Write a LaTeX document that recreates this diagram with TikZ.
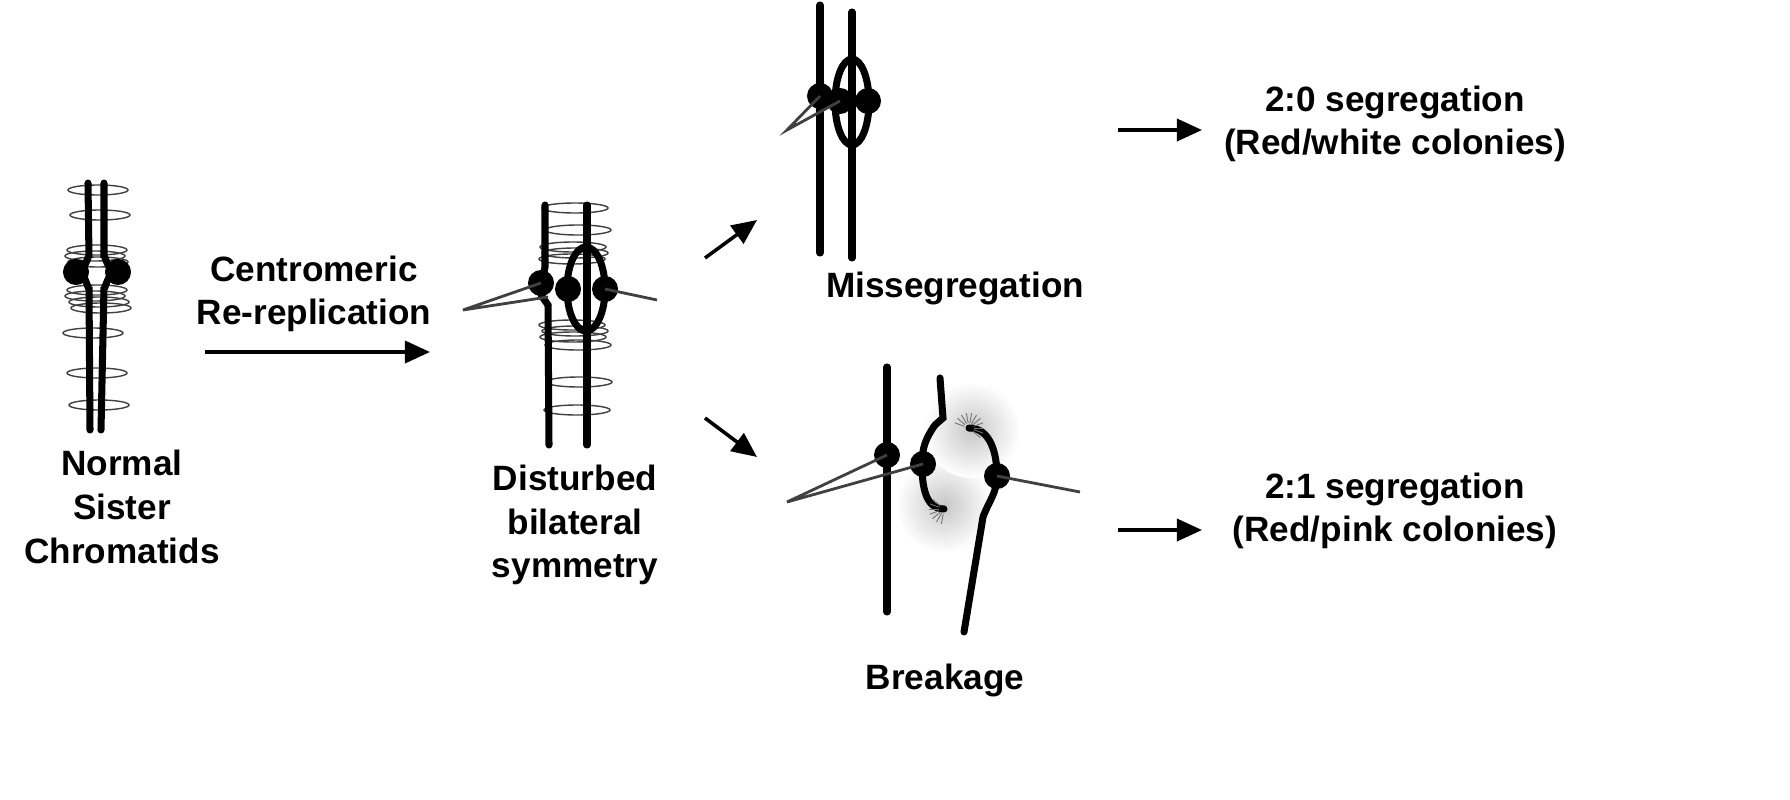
\documentclass[tikz,border=0pt]{standalone}
\usepackage{fontspec}
\setmainfont{Liberation Sans}
\usetikzlibrary{arrows.meta}
\begin{document}
\begin{tikzpicture}[x=0.01cm,y=-0.01cm,
  chrom/.style={line width=2pt,line cap=round},
  ring/.style={draw=black!75,line width=0.4pt},
  spin/.style={draw=black!75,line width=0.8pt},
  cen/.style={circle,fill=black,inner sep=0pt,minimum size=0.26cm},
  arr/.style={line width=1pt,-{Triangle[length=0.25cm,width=0.22cm]}},
  lab/.style={font=\bfseries\fontsize{10}{12.4}\selectfont,align=center},
  spark/.style={draw=black!55,line width=0.25pt}]
\useasboundingbox (0,0) rectangle (1790,800);
% ---------- normal sister chromatids
\foreach \y/\dx in {190/3,215/5,250/2,256/0,262/3,290/2,296/0,302/4,308/6,333/-2,373/2,405/4}
  \draw[ring] (95+\dx,\y) ellipse (30 and 5);
\draw[chrom] (88,183) -- (89,258) to[out=90,in=0] (78,272);
\draw[chrom] (78,272) to[out=0,in=-90] (89,287) -- (90,430);
\draw[chrom] (104,183) -- (104,258) to[out=90,in=180] (115,272);
\draw[chrom] (115,272) to[out=180,in=-90] (104,287) -- (101,430);
\node[cen] (c1) at (76,272) {};
\node[cen] (c2) at (118,272) {};
\node[lab] (l1) at (122,507) {Normal\\Sister\\Chromatids};
% ---------- arrow 1
\coordinate (a1s) at (205,352); \coordinate (a1e) at (430,352);
\draw[arr] (a1s) -- (a1e);
\node[lab] (l2) at (314,294) {Centromeric\\Re-replication};
% ---------- disturbed
\foreach \y/\dx in {208/0,230/3,247/-2,253/0,259/-3,325/-3,331/0,337/-2,345/3,382/4,410/2}
  \draw[ring] (575+\dx,\y) ellipse (33 and 5);
\draw[chrom] (545,205) -- (545,268) to[out=90,in=0] (538,283);
\draw[chrom] (541,295) -- (548,305) -- (549,445);
\draw[chrom] (587,205) -- (587,445);
\draw[line width=2pt] (586,289) ellipse (19 and 42);
\node[cen] (c3) at (541,283) {};
\node[cen] (c4) at (568,289) {};
\node[cen] (c5) at (605,289) {};
\coordinate (t1) at (463,310);
\coordinate (t1b) at (548,297);
\coordinate (t2) at (657,300);
\draw[spin] (c3.center) -- (t1) -- (t1b);
\draw[spin] (c5.center) -- (t2);
\node[lab] (l3) at (575,525) {Disturbed\\bilateral\\symmetry};
% diagonal arrows
\coordinate (d1s) at (705,258); \coordinate (d1e) at (757,220);
\coordinate (d2s) at (705,418); \coordinate (d2e) at (757,457);
\draw[arr] (d1s) -- (d1e);
\draw[arr] (d2s) -- (d2e);
% ---------- missegregation
\draw[chrom] (820,5) -- (820,253);
\draw[chrom] (852,12) -- (852,258);
\draw[line width=2pt] (852,102) ellipse (17 and 43);
\node[cen] (c6) at (820,96) {};
\node[cen] (c7) at (840,101) {};
\node[cen] (c8) at (868,101) {};
\coordinate (t3) at (787,130);
\draw[spin] (c6.center) -- (t3) -- (c7.center);
\node[lab] (l4) at (955,288) {Missegregation};
% ---------- breakage
\shade[inner color=black!22,outer color=white] (944,505) circle (48);
\shade[inner color=black!22,outer color=white] (972,430) circle (48);
\draw[chrom] (887,367) -- (887,612);
\draw[chrom] (940,378) -- (943,418) -- (935,425) to[out=-125,in=90] (922,464) to[out=-90,in=180] (944,509);
\draw[chrom] (969,428) to[out=0,in=90] (997,476) to[out=-90,in=70] (983,517) -- (964,632);
\foreach \a in {100,120,140,160,180,200,220}
  \draw[spark] (944,509) ++(\a:5) -- ++(\a:10);
\foreach \a in {-20,0,20,40,200,220,240,260,280,300,320}
  \draw[spark] (969,428) ++(\a:5) -- ++(\a:10);
\node[cen] (c9) at (887,455) {};
\node[cen] (c10) at (923,464) {};
\node[cen] (c11) at (997,476) {};
\coordinate (t4) at (787,502);
\coordinate (t5) at (1080,492);
\draw[spin] (c9.center) -- (t4) -- (c10.center);
\draw[spin] (c11.center) -- (t5);
\node[lab] (l5) at (945,680) {Breakage};
% ---------- outcomes
\coordinate (o1s) at (1118,130); \coordinate (o1e) at (1202,130);
\coordinate (o2s) at (1118,530); \coordinate (o2e) at (1202,530);
\draw[arr] (o1s) -- (o1e);
\draw[arr] (o2s) -- (o2e);
\node[lab] (l6) at (1395,124) {2:0 segregation\\(Red/white colonies)};
\node[lab] (l7) at (1395,511) {2:1 segregation\\(Red/pink colonies)};
\end{tikzpicture}
\end{document}
